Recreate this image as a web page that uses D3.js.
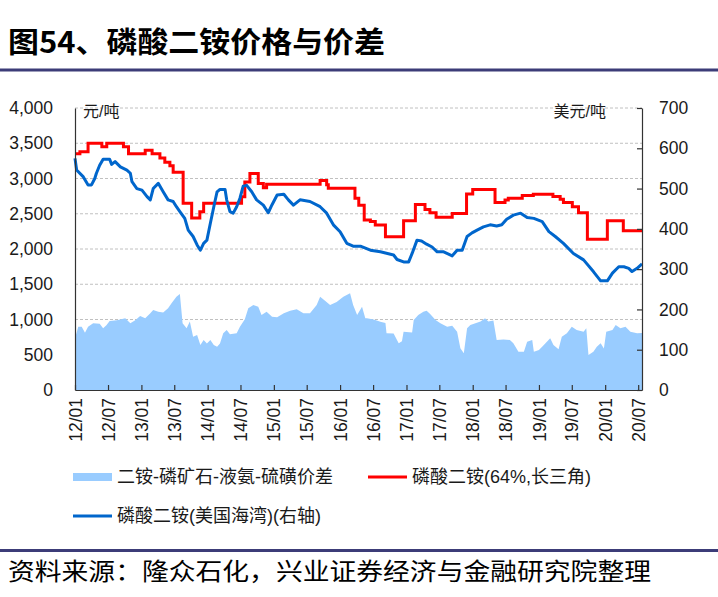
<!DOCTYPE html>
<html><head><meta charset="utf-8">
<script src="https://cdn.jsdelivr.net/npm/d3@7"></script>
<style>body{margin:0;background:#fff}svg{display:block}</style>
</head><body>
<svg id="c" width="718" height="597"></svg>
<script>
// ---- data ----
const title = "图54、磷酸二铵价格与价差";
const source = "资料来源：隆众石化，兴业证券经济与金融研究院整理";
const xTickLabels = ["12/01","12/07","13/01","13/07","14/01","14/07","15/01","15/07","16/01","16/07","17/01","17/07","18/01","18/07","19/01","19/07","20/01","20/07"];
const leftTicks = [0,500,1000,1500,2000,2500,3000,3500,4000];
const rightTicks = [0,100,200,300,400,500,600,700];
const seriesNames = ["二铵-磷矿石-液氨-硫磺价差","磷酸二铵(64%,长三角)","磷酸二铵(美国海湾)(右轴)"];

// spread, 元/吨 (left axis)
const spread = [
["2012-01-01",733],["2012-01-19",898],["2012-02-07",898],["2012-02-25",813],["2012-03-13",898],["2012-04-10",946],
["2012-05-16",940],["2012-06-04",875],["2012-06-22",920],["2012-07-10",979],["2012-08-19",990],["2012-10-04",1017],
["2012-11-01",946],["2012-11-28",990],["2012-12-25",1050],["2013-01-22",1017],["2013-02-19",1088],["2013-03-07",1135],
["2013-04-04",1110],["2013-05-01",1100],["2013-05-28",1159],["2013-06-16",1230],["2013-07-13",1324],["2013-08-01",1362],
["2013-08-16",946],["2013-09-07",875],["2013-09-25",970],["2013-10-13",756],["2013-11-04",780],["2013-11-22",638],
["2013-12-10",710],["2013-12-28",660],["2014-01-16",710],["2014-02-04",638],["2014-02-22",614],["2014-03-10",660],
["2014-03-28",804],["2014-04-16",850],["2014-05-04",790],["2014-06-10",804],["2014-06-28",898],["2014-07-25",1003],
["2014-08-13",1159],["2014-09-10",1206],["2014-10-07",1180],["2014-10-25",1064],["2014-11-22",1110],["2014-12-22",1040],
["2015-01-19",1031],["2015-02-25",1088],["2015-04-01",1125],["2015-05-07",1145],["2015-06-13",1088],["2015-07-19",1088],
["2015-08-25",1206],["2015-09-13",1324],["2015-10-10",1265],["2015-11-07",1206],["2015-12-13",1250],["2016-01-19",1324],
["2016-02-25",1372],["2016-03-13",1206],["2016-04-04",1064],["2016-05-01",1180],["2016-05-19",1017],["2016-05-28",1017],
["2016-07-04",1000],["2016-08-10",969],["2016-09-07",950],["2016-09-13",804],["2016-10-22",800],["2016-11-19",662],
["2016-12-07",690],["2016-12-16",827],["2017-02-01",815],["2017-02-10",993],["2017-03-07",1064],["2017-04-04",1111],
["2017-04-22",1125],["2017-05-10",1080],["2017-06-10",993],["2017-07-07",946],["2017-08-13",898],["2017-09-10",910],
["2017-10-07",827],["2017-10-25",591],["2017-11-13",520],["2017-12-01",875],["2017-12-19",922],["2018-01-16",946],
["2018-02-13",970],["2018-03-10",1017],["2018-03-28",970],["2018-04-25",985],["2018-05-13",709],["2018-06-19",718],
["2018-07-25",709],["2018-08-13",662],["2018-09-10",543],["2018-10-10",543],["2018-10-28",685],["2018-11-25",709],
["2018-12-04",543],["2019-01-01",567],["2019-01-28",638],["2019-03-04",733],["2019-03-22",638],["2019-04-19",577],
["2019-05-07",756],["2019-06-04",804],["2019-07-01",898],["2019-07-28",850],["2019-09-04",827],["2019-09-19",875],
["2019-10-01",496],["2019-10-28",543],["2019-11-16",614],["2019-12-07",662],["2019-12-25",590],["2020-01-07",827],
["2020-02-10",850],["2020-02-28",922],["2020-03-25",875],["2020-04-22",898],["2020-05-19",827],["2020-06-25",804],
["2020-07-22",810]
];

// DAP 64% Yangtze River Delta, 元/吨 (left axis), step changes
const dapChina = [
["2012-01-01",3350],["2012-01-28",3380],["2012-03-13",3500],["2012-05-28",3450],["2012-06-24",3500],["2012-09-24",3450],
["2012-10-22",3350],["2013-01-22",3400],["2013-03-01",3350],["2013-04-13",3290],["2013-05-10",3230],["2013-06-07",3180],
["2013-06-25",3090],["2013-08-19",2650],["2013-10-05",2440],["2013-11-19",2530],["2013-12-10",2650],["2014-07-07",2740],
["2014-07-25",2950],["2014-08-22",3070],["2014-10-07",2930],["2014-11-04",2870],["2014-11-22",2920],["2015-09-13",2970],
["2015-10-19",2910],["2015-10-28",2860],["2016-03-23",2720],["2016-04-13",2620],["2016-05-13",2410],["2016-06-16",2390],
["2016-07-13",2340],["2016-09-07",2175],["2016-12-16",2400],["2017-02-19",2630],["2017-04-13",2560],["2017-05-10",2515],
["2017-06-13",2450],["2017-09-10",2505],["2017-11-28",2780],["2018-01-01",2845],["2018-05-04",2660],["2018-06-28",2695],
["2018-07-16",2720],["2018-10-01",2760],["2018-12-01",2775],["2019-03-19",2745],["2019-04-28",2705],["2019-05-16",2660],
["2019-07-04",2600],["2019-08-07",2515],["2019-09-25",2140],["2020-01-13",2400],["2020-04-10",2260],["2020-07-22",2260]
];

// DAP US Gulf, 美元/吨 (right axis)
const dapUS = [
["2012-01-01",575],["2012-01-10",546],["2012-02-16",529],["2012-03-13",509],["2012-04-01",509],["2012-04-19",525],
["2012-04-28",538],["2012-05-16",558],["2012-06-04",573],["2012-07-10",573],["2012-07-21",560],["2012-08-09",567],
["2012-09-07",554],["2012-10-13",546],["2012-11-01",538],["2012-11-10",517],["2012-12-07",500],["2013-01-04",496],
["2013-02-01",480],["2013-02-19",472],["2013-03-07",500],["2013-04-04",513],["2013-05-01",492],["2013-05-28",472],
["2013-06-25",468],["2013-07-13",455],["2013-08-01",443],["2013-08-28",426],["2013-09-16",397],["2013-10-13",381],
["2013-11-04",360],["2013-11-22",347],["2013-12-10",364],["2013-12-28",372],["2014-01-16",414],["2014-02-04",455],
["2014-02-22",492],["2014-03-10",498],["2014-04-07",498],["2014-04-16",472],["2014-05-04",443],["2014-05-22",439],
["2014-06-10",455],["2014-06-28",476],["2014-07-16",506],["2014-08-04",508],["2014-09-01",492],["2014-09-28",472],
["2014-11-04",459],["2014-12-01",440],["2014-12-22",460],["2015-01-19",484],["2015-02-25",486],["2015-03-22",472],
["2015-04-19",459],["2015-05-25",472],["2015-07-19",468],["2015-09-13",455],["2015-10-19",439],["2015-11-25",410],
["2016-01-01",393],["2016-02-07",364],["2016-03-13",357],["2016-04-22",357],["2016-06-16",347],["2016-08-10",343],
["2016-10-22",335],["2016-11-10",324],["2016-12-16",318],["2017-01-13",318],["2017-02-01",339],["2017-02-28",372],
["2017-03-25",370],["2017-04-22",362],["2017-05-22",355],["2017-06-19",343],["2017-07-25",343],["2017-09-10",333],
["2017-10-07",347],["2017-11-04",347],["2017-12-01",381],["2017-12-28",390],["2018-01-25",397],["2018-03-01",405],
["2018-04-07",410],["2018-05-13",407],["2018-06-10",410],["2018-07-07",424],["2018-08-13",434],["2018-09-22",439],
["2018-10-28",428],["2018-12-04",426],["2019-01-19",418],["2019-02-25",393],["2019-04-01",381],["2019-05-16",364],
["2019-07-10",339],["2019-09-04",323],["2019-10-28",294],["2019-12-07",271],["2020-01-13",271],["2020-02-10",290],
["2020-03-16",306],["2020-04-13",306],["2020-05-10",302],["2020-05-28",294],["2020-06-25",302],["2020-07-22",313]
];

// ---- drawing ----
const svg = d3.select("#c");
const FONT = "'Liberation Sans', Arial, 'Noto Sans CJK SC', sans-serif";
const CJK = "'Noto Sans CJK SC', sans-serif";
const parse = d3.timeParse("%Y-%m-%d");
const parseTick = d3.timeParse("%y/%m");
const toObj = arr => arr.map(([d, v]) => ({date: parse(d), v}));
const sSpread = toObj(spread), sChina = toObj(dapChina), sUS = toObj(dapUS);

const L = 75, R = 642, T = 108, B = 390;
const x = d3.scaleTime().domain([parse("2012-01-01"), parse("2020-07-22")]).range([L, R]);
const yL = d3.scaleLinear().domain([0, 4000]).range([B, T]);
const yR = d3.scaleLinear().domain([0, 700]).range([B, T]);

// title + rules
svg.append("text").attr("x", 8).attr("y", 53).text(title)
  .attr("font-family", CJK).attr("font-weight", 700).attr("font-size", 29)
  .attr("textLength", 377).attr("lengthAdjust", "spacingAndGlyphs").attr("fill", "#000");
svg.append("rect").attr("x", 0).attr("y", 68.5).attr("width", 718).attr("height", 3).attr("fill", "#3c3c78");
svg.append("rect").attr("x", 0).attr("y", 549).attr("width", 718).attr("height", 3).attr("fill", "#3c3c78");
svg.append("text").attr("x", 8).attr("y", 580).text(source)
  .attr("font-family", CJK).attr("font-size", 24)
  .attr("textLength", 643).attr("lengthAdjust", "spacingAndGlyphs").attr("fill", "#000");

// grid
svg.append("g").selectAll("line").data(leftTicks.filter(d => d > 0)).join("line")
  .attr("x1", L).attr("x2", R).attr("y1", d => yL(d)).attr("y2", d => yL(d))
  .attr("stroke", "#c0c0c0").attr("stroke-width", 1).attr("stroke-dasharray", "3,2");

// marks
svg.append("path").datum(sSpread).attr("fill", "#99ccff")
  .attr("d", d3.area().x(d => x(d.date)).y0(yL(0)).y1(d => yL(d.v)));
svg.append("path").datum(sChina).attr("fill", "none").attr("stroke", "#ff0000").attr("stroke-width", 3)
  .attr("d", d3.line().curve(d3.curveStepAfter).x(d => x(d.date)).y(d => yL(d.v)));
svg.append("path").datum(sUS).attr("fill", "none").attr("stroke", "#0066cc").attr("stroke-width", 3)
  .attr("stroke-linejoin", "round")
  .attr("d", d3.line().x(d => x(d.date)).y(d => yR(d.v)));

// axes
const axisColor = "#333";
const gl = svg.append("g").attr("transform", `translate(${L},0)`)
  .call(d3.axisLeft(yL).tickValues(leftTicks).tickFormat(d3.format(",")).tickSize(0).tickPadding(22));
const gr = svg.append("g").attr("transform", `translate(${R},0)`)
  .call(d3.axisRight(yR).tickValues(rightTicks).tickSizeInner(-5).tickSizeOuter(0).tickPadding(17));
const gb = svg.append("g").attr("transform", `translate(0,${B})`)
  .call(d3.axisBottom(x).tickValues(xTickLabels.map(parseTick)).tickFormat(d3.timeFormat("%y/%m"))
    .tickSizeInner(-5).tickSizeOuter(0));
gb.selectAll("text").attr("transform", "rotate(-90)").attr("x", -8).attr("y", 0).attr("dy", "0.35em")
  .attr("text-anchor", "end");
[gl, gr, gb].forEach(g => {
  g.selectAll("path,line").attr("stroke", axisColor).attr("stroke-width", 1.2);
  g.selectAll("text").attr("font-family", FONT).attr("font-size", 17.5).attr("fill", "#1a1a1a");
});

// unit labels
svg.append("text").attr("x", 83).attr("y", 117).text("元/吨")
  .attr("font-family", FONT).attr("font-size", 16).attr("fill", "#1a1a1a");
svg.append("text").attr("x", 606).attr("y", 117).attr("text-anchor", "end").text("美元/吨")
  .attr("font-family", FONT).attr("font-size", 16).attr("fill", "#1a1a1a");

// legend
const lg = svg.append("g").attr("font-family", FONT).attr("font-size", 18).attr("fill", "#1a1a1a");
lg.append("rect").attr("x", 73).attr("y", 473).attr("width", 39).attr("height", 8).attr("fill", "#99ccff");
lg.append("text").attr("x", 117).attr("y", 477).attr("dy", "0.35em").text(seriesNames[0]);
lg.append("line").attr("x1", 368).attr("x2", 407).attr("y1", 477).attr("y2", 477).attr("stroke", "#ff0000").attr("stroke-width", 3);
lg.append("text").attr("x", 412).attr("y", 477).attr("dy", "0.35em").text(seriesNames[1]);
lg.append("line").attr("x1", 73).attr("x2", 112).attr("y1", 516).attr("y2", 516).attr("stroke", "#0066cc").attr("stroke-width", 3);
lg.append("text").attr("x", 117).attr("y", 516).attr("dy", "0.35em").text(seriesNames[2]);
</script>
</body></html>
